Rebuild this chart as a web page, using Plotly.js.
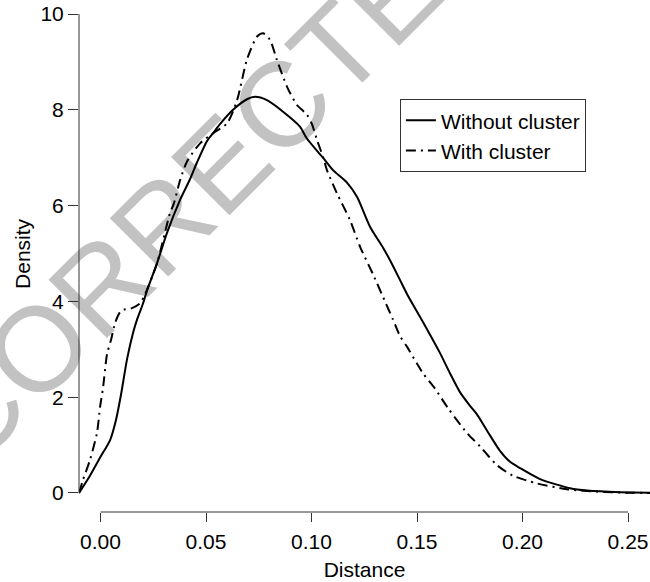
<!DOCTYPE html>
<html>
<head>
<meta charset="utf-8">
<script src="https://cdn.plot.ly/plotly-3.0.1.min.js"></script>
<style>html,body{margin:0;padding:0;background:#fff;}#chart{width:650px;height:582px;}</style>
</head>
<body>
<div id="chart"></div>
<script>
// Distance values and densities for the two curves
const withoutX = [-0.0102,-0.0050,-0.0002,0.0045,0.0073,0.0097,0.0126,0.0154,0.0173,0.0201,0.0220,0.0268,0.0315,0.0377,0.0424,0.0457,0.0505,0.0533,0.0566,0.0628,0.0694,0.0732,0.0789,0.0865,0.0945,0.0978,0.1054,0.1102,0.1168,0.1216,0.1277,0.1339,0.1372,0.1419,0.1453,0.1528,0.1609,0.1656,0.1704,0.1751,0.1784,0.1832,0.1893,0.1941,0.1988,0.2083,0.2225,0.2306,0.2462,0.2604];
const withoutY = [0,0.36,0.74,1.10,1.52,2.05,2.80,3.34,3.62,3.95,4.22,4.80,5.43,6.12,6.55,6.90,7.35,7.51,7.70,8.00,8.22,8.27,8.20,7.96,7.65,7.40,7.00,6.74,6.48,6.18,5.56,5.12,4.86,4.45,4.15,3.57,2.92,2.50,2.10,1.82,1.64,1.30,0.88,0.65,0.52,0.29,0.10,0.05,0.015,0.005];

const withX = [-0.0102,-0.0083,-0.0050,-0.0017,-0.0002,0.0012,0.0031,0.0050,0.0069,0.0090,0.0102,0.0149,0.0187,0.0211,0.0268,0.0329,0.0348,0.0377,0.0410,0.0472,0.0533,0.0600,0.0647,0.0694,0.0742,0.0770,0.0803,0.0836,0.0884,0.0931,0.0978,0.1002,0.1026,0.1054,0.1073,0.1120,0.1182,0.1230,0.1292,0.1353,0.1386,0.1419,0.1453,0.1500,0.1528,0.1585,0.1647,0.1737,0.1799,0.1879,0.1955,0.2068,0.2210,0.2306,0.2462,0.2604];
const withY = [0,0.27,0.69,1.25,1.80,2.20,2.90,3.20,3.55,3.76,3.82,3.86,3.96,4.15,4.80,5.84,6.05,6.53,6.92,7.30,7.51,7.72,8.20,9.05,9.53,9.60,9.46,9.04,8.48,8.10,7.90,7.70,7.37,7.02,6.74,6.26,5.70,5.14,4.56,3.95,3.62,3.28,3.05,2.70,2.50,2.18,1.77,1.25,0.97,0.58,0.36,0.20,0.08,0.04,0.01,0.00];

const seriesNames = ["Without cluster", "With cluster"];
const xTicks = [0, 0.05, 0.10, 0.15, 0.20, 0.25];
const xTickText = ["0.00", "0.05", "0.10", "0.15", "0.20", "0.25"];
const yTicks = [0, 2, 4, 6, 8, 10];
const yTickText = ["0", "2", "4", "6", "8", "10"];
const xTitle = "Distance";
const yTitle = "Density";
const watermark = "CORRECTED";

const FONT = "Liberation Sans, Arial, Helvetica, sans-serif";
const AX = "#333333";
const FS = 21;

const traces = [
  {x: withoutX, y: withoutY, name: seriesNames[0], mode: "lines",
   line: {color: "#000", width: 2, shape: "spline", smoothing: 0.7}},
  {x: withX, y: withY, name: seriesNames[1], mode: "lines",
   line: {color: "#000", width: 2, shape: "spline", smoothing: 0.7, dash: "10px,5px,2px,5px"}}
];

const layout = {
  width: 650, height: 582,
  margin: {l: 79, r: 0, t: 14, b: 70, pad: 0},
  paper_bgcolor: "#fff", plot_bgcolor: "#fff",
  font: {family: FONT, size: FS, color: "#000"},
  showlegend: true,
  legend: {x: 0.562, y: 0.829, xanchor: "left", yanchor: "top",
    bgcolor: "#fff", bordercolor: AX, borderwidth: 1,
    font: {family: FONT, size: 21, color: "#000"}, tracegroupgap: 0},
  xaxis: {range: [-0.0102, 0.2604], tickmode: "array", tickvals: xTicks, ticktext: xTickText,
    ticks: "outside", ticklen: 9, tickwidth: 1, tickcolor: AX, ticklabelstandoff: 2,
    showline: false, showgrid: false, zeroline: false,
    tickfont: {family: FONT, size: FS, color: "#000"},
    title: {text: xTitle, font: {family: FONT, size: FS, color: "#000"}, standoff: 10}},
  yaxis: {range: [-0.397, 10], tickmode: "array", tickvals: yTicks, ticktext: yTickText,
    ticks: "outside", ticklen: 10, tickwidth: 1, tickcolor: AX,
    showline: false, showgrid: false, zeroline: false,
    tickfont: {family: FONT, size: FS, color: "#000"}},
  annotations: [
    {text: yTitle, xref: "paper", yref: "y", x: -0.099, y: (yTicks[0] + yTicks[yTicks.length-1]) / 2,
     xanchor: "center", yanchor: "middle", textangle: -90, showarrow: false,
     font: {family: FONT, size: FS, color: "#000"}}
  ],
  shapes: [
    {type: "rect", layer: "below", xref: "paper", yref: "paper",
     x0: 0.1189, x1: 0.3189, y0: 0.5948, y1: 0.7948,
     line: {width: 0}, fillcolor: "rgba(0,0,0,0)",
     label: {text: watermark, textangle: -45, textposition: "middle center",
       font: {family: FONT, size: 120, color: "#c2c2c2"}}},
    {type: "line", xref: "x", yref: "paper", x0: xTicks[0], x1: xTicks[xTicks.length-1], y0: 0, y1: 0,
     line: {color: AX, width: 1}},
    {type: "line", xref: "paper", yref: "y", x0: 0, x1: 0, y0: yTicks[0], y1: yTicks[yTicks.length-1],
     line: {color: AX, width: 1}}
  ]
};

Plotly.newPlot("chart", traces, layout, {displayModeBar: false, staticPlot: true});
</script>
</body>
</html>
